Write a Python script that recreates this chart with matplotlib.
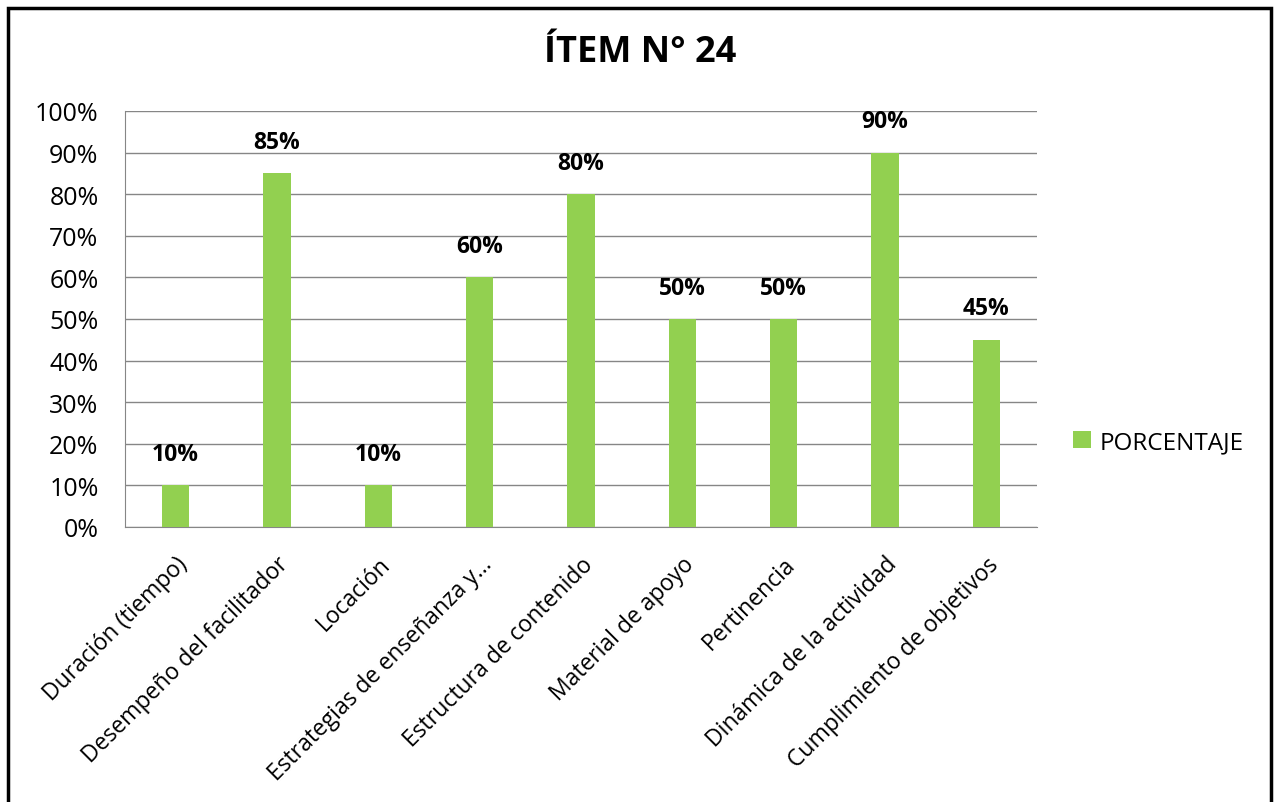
import matplotlib.pyplot as plt
from matplotlib.patches import Rectangle

# datos
categorias = ["Duración (tiempo)", "Desempeño del facilitador", "Locación",
              "Estrategias de enseñanza y...", "Estructura de contenido",
              "Material de apoyo", "Pertinencia", "Dinámica de la actividad",
              "Cumplimiento de objetivos"]
porcentajes = [10, 85, 10, 60, 80, 50, 50, 90, 45]
yticks = [0, 10, 20, 30, 40, 50, 60, 70, 80, 90, 100]

plt.rcParams['font.family'] = ['Open Sans', 'DejaVu Sans']

fig = plt.figure(figsize=(12.75, 8.03), dpi=100)
ax = fig.add_axes([125 / 1275, 1 - 528 / 803, 912 / 1275, 416 / 803])

x = range(len(categorias))
ax.bar(x, porcentajes, width=0.27, color='#92D050', label='PORCENTAJE', zorder=3)

for xi, v in zip(x, porcentajes):
    ax.annotate(f"{v}%", (xi, v), xytext=(0, 14), textcoords='offset points',
                ha='center', va='bottom', fontsize=16.5, fontweight='bold')

ax.set_xlim(-0.5, len(categorias) - 0.5)
ax.set_ylim(0, 100)
ax.set_yticks(yticks)
ax.set_yticklabels([f"{t}%" for t in yticks], fontsize=18)
ax.set_xticks(list(x))
ax.set_xticklabels(categorias, rotation=45, ha='right', rotation_mode='anchor', fontsize=16.5)
ax.tick_params(axis='y', length=0, pad=19)
ax.tick_params(axis='x', length=0, pad=18)
ax.grid(axis='y', color='#868686', linewidth=1, zorder=0)

for s in ['top', 'right']:
    ax.spines[s].set_visible(False)
for s in ['left', 'bottom']:
    ax.spines[s].set_color('#868686')

fig.text(640 / 1275, 1 - 53 / 803, "ÍTEM N° 24", ha='center', va='center',
         fontsize=26, fontweight='bold')

ax.legend(loc='center left', bbox_to_anchor=(1051 / 1275, 1 - 443 / 803),
          bbox_transform=fig.transFigure, frameon=False, fontsize=17.5,
          handlelength=0.75, handleheight=0.75, handletextpad=0.35)

# marco
fig.patches.append(Rectangle((8 / 1275, -0.05), 1263 / 1275, 1.05 - 9 / 803,
                             transform=fig.transFigure, fill=False,
                             edgecolor='black', linewidth=2.5))

fig.savefig('out.png', dpi=100)
